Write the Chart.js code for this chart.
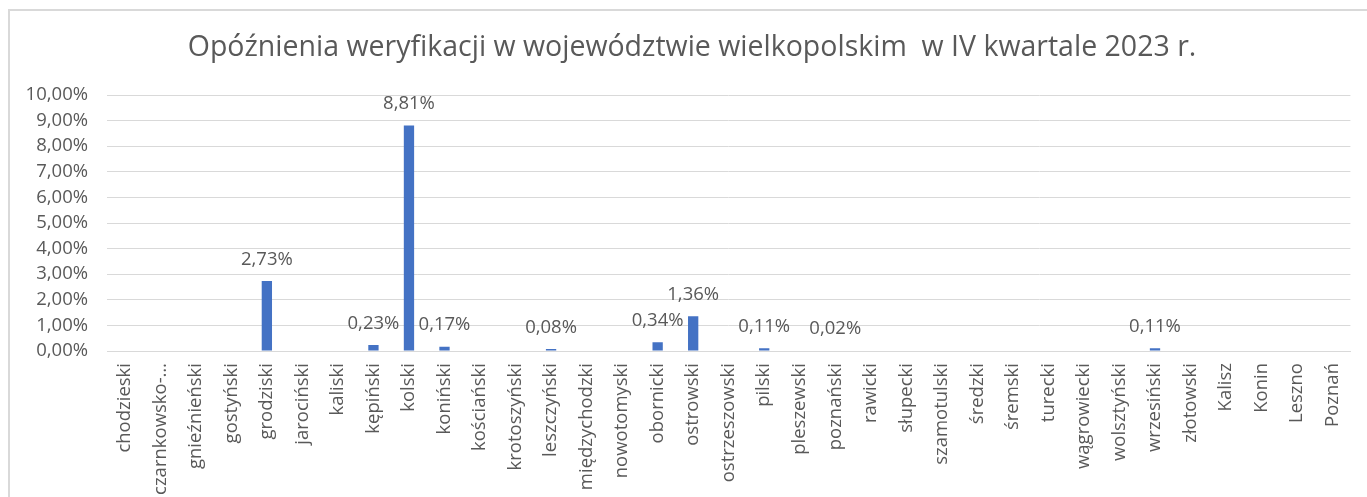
<!DOCTYPE html>
<html>
<head>
<meta charset="utf-8">
<script src="https://cdn.jsdelivr.net/npm/chart.js@4/dist/chart.umd.min.js"></script>
<style>
  html, body { margin: 0; padding: 0; background: #fff; }
  #wrap { position: relative; width: 1367px; height: 497px; overflow: hidden; }
  #frame { position: absolute; left: 8px; top: 9px; width: 1400px; height: 600px; border-top: 2px solid #d9d9d9; border-left: 2px solid #d9d9d9; }
  canvas { position: absolute; left: 0; top: 0; }
</style>
</head>
<body>
<div id="wrap">
  <div id="frame"></div>
  <canvas id="c" width="1367" height="497"></canvas>
</div>
<script>
const titleText = 'Opóźnienia weryfikacji w województwie wielkopolskim  w IV kwartale 2023 r.';
const categories = ['chodzieski', 'czarnkowsko-…', 'gnieźnieński', 'gostyński', 'grodziski', 'jarociński', 'kaliski', 'kępiński', 'kolski', 'koniński', 'kościański', 'krotoszyński', 'leszczyński', 'międzychodzki', 'nowotomyski', 'obornicki', 'ostrowski', 'ostrzeszowski', 'pilski', 'pleszewski', 'poznański', 'rawicki', 'słupecki', 'szamotulski', 'średzki', 'śremski', 'turecki', 'wągrowiecki', 'wolsztyński', 'wrzesiński', 'złotowski', 'Kalisz', 'Konin', 'Leszno', 'Poznań'];
const delays = [0, 0, 0, 0, 2.73, 0, 0, 0.23, 8.81, 0.17, 0, 0, 0.08, 0, 0, 0.34, 1.36, 0, 0.11, 0, 0.02, 0, 0, 0, 0, 0, 0, 0, 0, 0.11, 0, 0, 0, 0, 0];
const yTicks = [0, 1, 2, 3, 4, 5, 6, 7, 8, 9, 10];

const FONT = '"Open Sans", sans-serif';
const TXT = '#595959';
const fmt = v => v.toFixed(2).replace('.', ',') + '%';

const labelPlugin = {
  id: 'barLabels',
  afterDatasetsDraw(chart) {
    const ctx = chart.ctx;
    const meta = chart.getDatasetMeta(0);
    ctx.save();
    ctx.font = '18.5px ' + FONT;
    ctx.fillStyle = TXT;
    ctx.textAlign = 'center';
    ctx.textBaseline = 'middle';
    meta.data.forEach((el, i) => {
      const v = chart.data.datasets[0].data[i];
      if (v > 0) ctx.fillText(fmt(v), el.x, el.y - 21.5);
    });
    // title, centred on the (wider) chart frame
    const tb = chart.titleBlock;
    ctx.font = '28.5px ' + FONT;
    ctx.fillText(titleText, 692, tb.top + 31 + 17.1);
    ctx.restore();
  }
};

new Chart(document.getElementById('c'), {
  type: 'bar',
  data: {
    labels: categories,
    datasets: [{
      data: delays,
      backgroundColor: '#4472C4',
      borderWidth: 0,
      barPercentage: 0.29,
      categoryPercentage: 1
    }]
  },
  options: {
    responsive: false,
    animation: false,
    layout: { padding: { left: 16, right: 12, top: 0, bottom: 0 } },
    plugins: {
      legend: { display: false },
      tooltip: { enabled: false },
      title: {
        display: true,
        text: titleText,
        color: 'rgba(0,0,0,0)',
        font: { family: FONT, size: 28.5, weight: 'normal', lineHeight: 1.2 },
        padding: { top: 31, bottom: 29.8 }
      }
    },
    scales: {
      x: {
        grid: { display: false, drawTicks: false },
        border: { display: true, color: '#d9d9d9' },
        ticks: {
          color: TXT,
          font: { family: FONT, size: 18.5 },
          maxRotation: 90, minRotation: 90,
          autoSkip: false,
          padding: 12
        },
        afterFit(s) { s.height = 146; }
      },
      y: {
        min: 0, max: 10,
        afterBuildTicks(s) { s.ticks = yTicks.map(v => ({ value: v })); },
        grid: { color: '#d9d9d9', drawTicks: false },
        border: { display: false },
        ticks: {
          color: TXT,
          font: { family: FONT, size: 18.5 },
          padding: 19,
          callback: v => fmt(v)
        },
        afterFit(s) { s.width = 91; }
      }
    }
  },
  plugins: [labelPlugin]
});
</script>
</body>
</html>
